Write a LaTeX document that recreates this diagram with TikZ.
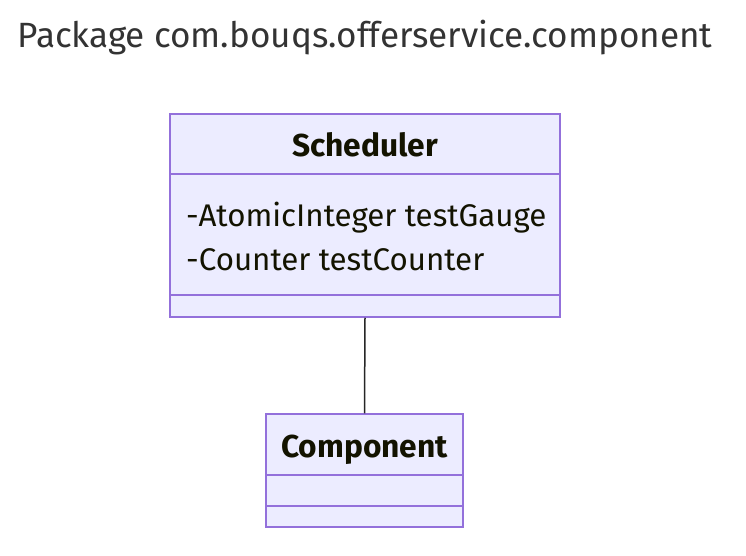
\documentclass[tikz,border=0pt]{standalone}
\usepackage{fontspec}
\setmainfont{Fira Sans}
\begin{document}
\begin{tikzpicture}[x=1pt,y=-1pt,
  classbox/.style={draw=umlborder,fill=umlfill,line width=1.5pt,rectangle,inner sep=0pt},
  classtext/.style={text=umltext,font=\fontsize{31.3}{36}\selectfont,inner sep=0pt},
  classname/.style={classtext,font=\fontsize{31.7}{36}\selectfont\bfseries},
  divider/.style={draw=umlborder,line width=1.5pt},
  link/.style={draw=black!85,line width=1.5pt}]
\definecolor{umlborder}{HTML}{9370DB}
\definecolor{umlfill}{HTML}{ECECFF}
\definecolor{umltext}{HTML}{131300}
\definecolor{titletext}{HTML}{333333}
\useasboundingbox (0,0) rectangle (746,556);
\fill[white] (0,0) rectangle (746,556);
\node[text=titletext,font=\fontsize{35.1}{40}\selectfont,inner sep=0pt,anchor=base] (title) at (365,48) {Package com.bouqs.offerservice.component};
% Scheduler
\node[classbox,minimum width=390pt,minimum height=203pt] (sched) at (365,215.5) {};
\draw[divider] (170,174) coordinate (s1a) -- (560,174) coordinate (s1b);
\draw[divider] (170,295) coordinate (s2a) -- (560,295) coordinate (s2b);
\node[classname,anchor=base] (schedname) at (365,157) {Scheduler};
\node[classtext,anchor=base west] (attr1) at (186,226) {-AtomicInteger testGauge};
\node[classtext,anchor=base west] (attr2) at (186,270) {-Counter testCounter};
% Component
\node[classbox,minimum width=197pt,minimum height=113pt] (comp) at (364.5,470.5) {};
\draw[divider] (266,475) coordinate (c1a) -- (463,475) coordinate (c1b);
\draw[divider] (266,506) coordinate (c2a) -- (463,506) coordinate (c2b);
\node[classname,anchor=base] (compname) at (364.5,457) {Component};
% connector
\draw[link] (sched.south) -- (comp.north);
\end{tikzpicture}
\end{document}
